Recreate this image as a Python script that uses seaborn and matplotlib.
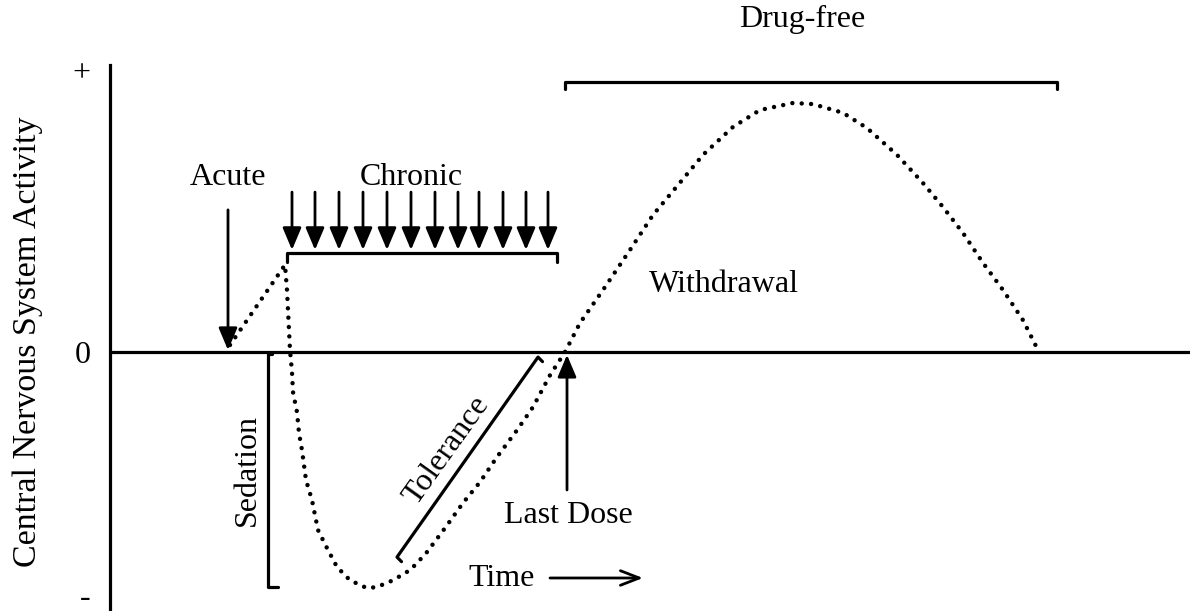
import numpy as np
import pandas as pd
import seaborn as sns
import matplotlib.pyplot as plt

sns.set_style('white')
plt.rcParams['font.family'] = ['Liberation Serif', 'DejaVu Serif']
plt.rcParams['text.color'] = 'black'
plt.rcParams['axes.labelcolor'] = 'black'
plt.rcParams['ytick.color'] = 'black'
plt.rcParams['axes.edgecolor'] = 'black'

# dotted activity curve: time (arbitrary units), activity (+ level = 100)
curve_t = [12.0, 17.5, 17.7, 18.0, 18.2, 18.3, 18.7, 18.9, 19.2, 19.6, 20.2, 20.8,
           21.7, 22.7, 24.0, 25.7, 26.7, 28.3, 30.0, 30.7, 31.7, 33.5, 35.3, 37.0,
           38.7, 40.7, 42.3, 44.0, 45.5,
           47.0, 49.3, 52.0, 54.3, 56.8, 59.3, 62.3, 65.0, 68.3, 70.3, 73.3, 75.7,
           78.7, 81.3, 83.3, 85.3, 87.3, 89.3, 91.3, 92.7]
curve_a = [2.5, 30.9, 22.0, 0.7, -7.1, -14.2, -21.3, -28.7, -34.8, -45.4, -52.5, -63.1,
           -69.5, -76.2, -80.9, -83.7, -83.3, -80.9, -77.3, -74.8, -70.9, -62.4, -53.5, -46.1,
           -37.2, -27.7, -19.5, -8.2, 0.0,
           10.3, 22.0, 36.2, 48.6, 59.2, 69.9, 79.8, 85.8, 88.3, 87.9, 84.8, 79.4,
           69.9, 59.9, 51.4, 42.2, 31.6, 22.0, 11.3, 1.4]

# chronic dosing arrows
chronic_t = [18.2, 20.5, 22.9, 25.3, 27.7, 30.1, 32.5, 34.8, 36.9, 39.3, 41.6, 43.8]
chronic_top, chronic_tip = 56.7, 36.2
chronic_bar = (17.7, 44.7, 35.1)      # start, end, level
drugfree_bar = (45.5, 94.7, 95.7)
acute_arrow = (11.8, 50.4, 0.7)       # t, from, to
lastdose_arrow = (45.7, -48.9, -1.0)
sedation_bar = (15.8, 0.0, -83.3)     # t, top, bottom
tolerance_bar = ((28.7, -72.7), (42.8, -1.8))
time_arrow = (44.0, 53.3, -80.1)

ytick_pos = [100, 0, -86]
ytick_lab = ['+', '0', '-']

fig = plt.figure(figsize=(11.96, 6.11), dpi=100)
ax = fig.add_axes([110 / 1196, 0, 1080 / 1196, 1])
ax.set_xlim(0, 108)
ax.set_ylim(-91.8, 124.8)

df = pd.DataFrame({'t': curve_t, 'a': curve_a})
sns.lineplot(data=df, x='t', y='a', sort=False, estimator=None, ax=ax, color='black',
             lw=3.2, linestyle=(0, (0.01, 2.1)), dash_capstyle='round')

lw = 2.3
ax.axhline(0, color='black', lw=lw, xmin=0, xmax=1)

# brackets
s, e, lev = chronic_bar
ax.plot([s, s, e, e], [lev - 3.2, lev, lev, lev - 3.2], color='black', lw=lw)
s, e, lev = drugfree_bar
ax.plot([s, s, e, e], [lev - 2.5, lev, lev, lev - 2.5], color='black', lw=lw)
t, top, bot = sedation_bar
ax.plot([t + 0.4, t, t, t + 1.0], [top - 0.8, top - 0.8, bot, bot], color='black', lw=lw)
(t0, a0), (t1, a1) = tolerance_bar
ax.plot([t0 + 0.45, t0, t1, t1 + 0.45], [a0 - 1.6, a0, a1, a1 - 1.6], color='black', lw=lw)

arrow_kw = dict(arrowstyle='-|>,head_length=0.9,head_width=0.38', color='black',
                lw=2.0, mutation_scale=15, shrinkA=0, shrinkB=0)
for t in chronic_t:
    ax.annotate('', xy=(t, chronic_tip), xytext=(t, chronic_top), arrowprops=arrow_kw)
t, a_from, a_to = acute_arrow
ax.annotate('', xy=(t, a_to), xytext=(t, a_from), arrowprops=arrow_kw)
t, a_from, a_to = lastdose_arrow
ax.annotate('', xy=(t, a_to), xytext=(t, a_from), arrowprops=arrow_kw)
t0, t1, a = time_arrow
ax.annotate('', xy=(t1, a), xytext=(t0, a),
            arrowprops=dict(arrowstyle='->,head_length=0.9,head_width=0.35', color='black',
                            lw=2.0, mutation_scale=15, shrinkA=0, shrinkB=0))

fs = 23
ax.text(11.8, 59.2, 'Acute', ha='center', va='baseline', fontsize=fs)
ax.text(30.1, 59.2, 'Chronic', ha='center', va='baseline', fontsize=fs)
ax.text(69.2, 115.2, 'Drug-free', ha='center', va='baseline', fontsize=fs)
ax.text(61.4, 21.3, 'Withdrawal', ha='center', va='baseline', fontsize=fs)
ax.text(45.8, -60.6, 'Last Dose', ha='center', va='baseline', fontsize=fs)
ax.text(39.2, -83.0, 'Time', ha='center', va='baseline', fontsize=fs)
ax.text(13.7, -41.8, 'Sedation', ha='center', va='center', rotation=90, fontsize=fs)
ax.text(33.7, -34.8, 'Tolerance', ha='center', va='center', rotation=54.4,
        rotation_mode='anchor', fontsize=fs)

ax.set_yticks(ytick_pos)
ax.set_yticklabels(ytick_lab, fontsize=fs)
ax.tick_params(axis='y', length=0, pad=14)
ax.set_xticks([])
ax.set_xlabel('')
ax.set_ylabel('Central Nervous System Activity', fontsize=24.5)
ax.yaxis.set_label_coords(-0.062, 0.44)

sns.despine(ax=ax, top=True, right=True, bottom=True)
ax.spines['left'].set_linewidth(lw)
ax.spines['left'].set_bounds(-95, 101.8)

fig.savefig('out.png', dpi=100)
